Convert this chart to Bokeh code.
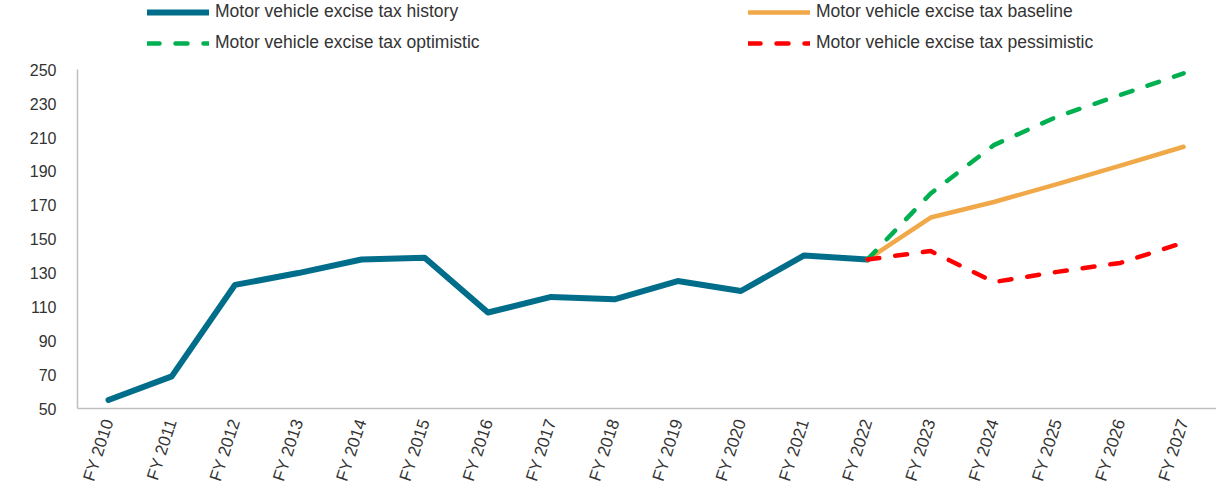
import math
from bokeh.plotting import figure
from bokeh.models import Range1d, FixedTicker, Legend, LegendItem
from bokeh.embed import file_html
from bokeh.resources import INLINE

categories = ["FY 2010", "FY 2011", "FY 2012", "FY 2013", "FY 2014", "FY 2015",
              "FY 2016", "FY 2017", "FY 2018", "FY 2019", "FY 2020", "FY 2021",
              "FY 2022", "FY 2023", "FY 2024", "FY 2025", "FY 2026", "FY 2027"]

history = [55, 69, 123, 130, 138, 139, 106.7, 115.9, 114.5, 125.3, 119.4, 140.4, 138]
forecast_years = ["FY 2022", "FY 2023", "FY 2024", "FY 2025", "FY 2026", "FY 2027"]
baseline = [138, 162.8, 172, 182.5, 193.5, 204.6]
optimistic = [138, 177, 205.6, 222.4, 235.2, 248]
pessimistic = [138, 143, 124.7, 130.7, 136, 148]

y_ticks = [50, 70, 90, 110, 130, 150, 170, 190, 210, 230, 250]
y_min, y_max = 50, 250

idx = {c: i for i, c in enumerate(categories)}
hist_x = [idx[c] for c in categories[:len(history)]]
fc_x = [idx[c] for c in forecast_years]

FONT = "Liberation Sans"
TXT = "#333333"

# frame reaches the top of the canvas so the legend (drawn in the frame) is not clipped;
# the axis itself is bounded to 50..250
p = figure(width=1216, height=493, output_backend="svg", toolbar_location=None,
           x_range=Range1d(-0.49, 17.52), y_range=Range1d(y_min, 291),
           min_border_left=77, min_border_top=0, min_border_bottom=85, min_border_right=0)
p.outline_line_color = None
p.xgrid.grid_line_color = None
p.ygrid.grid_line_color = None
p.background_fill_color = "white"

r_hist = p.line(hist_x, history, line_color="#006E8A", line_width=6, line_join="round", line_cap="round")
r_base = p.line(fc_x, baseline, line_color="#F0A848", line_width=4.5, line_join="round", line_cap="round")
r_opt = p.line(fc_x, optimistic, line_color="#00B050", line_width=4.5, line_dash="12 16", line_cap="round")
r_pes = p.line(fc_x, pessimistic, line_color="#FF0000", line_width=4.5, line_dash="12 16", line_cap="round")

xa = p.xaxis[0]
xa.ticker = FixedTicker(ticks=list(range(len(categories))))
xa.major_label_overrides = {i: c for i, c in enumerate(categories)}
xa.major_label_orientation = math.radians(72)
xa.minor_tick_line_color = None
xa.major_tick_line_color = None
xa.major_tick_in = 0
xa.major_tick_out = 0
xa.axis_line_color = "#bfbfbf"
xa.axis_line_width = 1.5
xa.major_label_text_font = FONT
xa.major_label_text_font_size = "17px"
xa.major_label_text_color = TXT
xa.major_label_standoff = 11

ya = p.yaxis[0]
ya.ticker = FixedTicker(ticks=y_ticks)
ya.bounds = (y_min, y_max)
ya.minor_tick_line_color = None
ya.major_tick_line_color = None
ya.major_tick_in = 0
ya.major_tick_out = 0
ya.axis_line_color = "#bfbfbf"
ya.axis_line_width = 1.5
ya.major_label_text_font = FONT
ya.major_label_text_font_size = "16px"
ya.major_label_text_color = TXT
ya.major_label_standoff = 21

legend = Legend(items=[
    LegendItem(label="Motor vehicle excise tax history", renderers=[r_hist]),
    LegendItem(label="Motor vehicle excise tax baseline", renderers=[r_base]),
    LegendItem(label="Motor vehicle excise tax optimistic", renderers=[r_opt]),
    LegendItem(label="Motor vehicle excise tax pessimistic", renderers=[r_pes]),
], location=(70, 355), orientation="horizontal", ncols=2, nrows=2)
legend.padding = 0
legend.margin = 0
legend.spacing = 10
legend.glyph_width = 62
legend.glyph_height = 20
legend.label_height = 20
legend.label_width = 523
legend.label_standoff = 6
legend.label_text_font = FONT
legend.label_text_font_size = "17.5px"
legend.label_text_color = TXT
legend.border_line_color = None
legend.background_fill_alpha = 0
p.add_layout(legend, "center")

open("out.html", "w").write(file_html(p, INLINE))
